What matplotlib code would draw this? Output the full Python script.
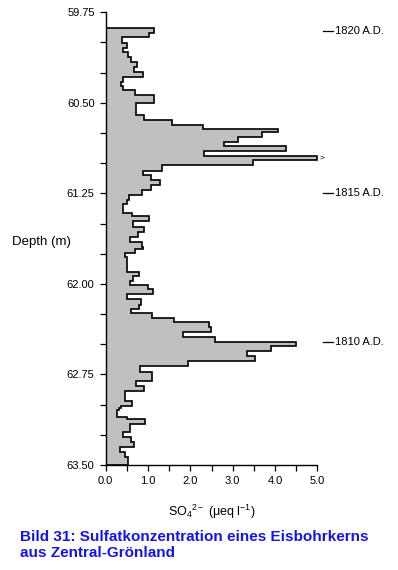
import numpy as np
import matplotlib
matplotlib.use('Agg')
import matplotlib.pyplot as plt
from matplotlib.ticker import MultipleLocator, FormatStrFormatter

plt.rcParams['font.family'] = ['Liberation Sans', 'DejaVu Sans']
plt.rcParams['mathtext.fontset'] = 'custom'
plt.rcParams['mathtext.rm'] = 'Liberation Sans'
plt.rcParams['mathtext.it'] = 'Liberation Sans'
plt.rcParams['mathtext.default'] = 'regular'

# Top depth (m) of each sample interval, last entry is the bottom of the core
depth_edges = [
    59.883, 59.924, 59.957, 60.002, 60.043, 60.081, 60.123, 60.164, 60.206, 60.247,
    60.284, 60.325, 60.361, 60.394, 60.435, 60.504, 60.601, 60.642, 60.684, 60.717,
    60.744, 60.781, 60.822, 60.855, 60.897, 60.938, 60.974, 61.015, 61.062, 61.098,
    61.139, 61.181, 61.222, 61.264, 61.305, 61.341, 61.413, 61.438, 61.477, 61.526,
    61.568, 61.609, 61.651, 61.692, 61.714, 61.747, 61.775, 61.899, 61.935, 61.974,
    62.009, 62.045, 62.084, 62.128, 62.173, 62.208, 62.244, 62.285, 62.313, 62.355,
    62.401, 62.443, 62.484, 62.512, 62.554, 62.595, 62.639, 62.678, 62.728, 62.805,
    62.846, 62.888, 62.929, 62.966, 63.008, 63.028, 63.045, 63.100, 63.120, 63.161,
    63.227, 63.271, 63.308, 63.351, 63.393, 63.434, 63.500,
]

# SO4 2- concentration (ueq/l) per interval
so4 = [
    1.13, 1.02, 0.39, 0.51, 0.40, 0.53, 0.59, 0.73, 0.68, 0.89,
    0.42, 0.35, 0.40, 0.69, 1.15, 0.71, 0.90, 1.57, 2.31, 4.06,
    3.70, 3.13, 2.80, 4.25, 2.33, 5.00, 3.47, 1.32, 0.89, 1.06,
    1.28, 1.06, 0.85, 0.56, 0.50, 0.40, 0.61, 1.03, 0.65, 0.91,
    0.76, 0.57, 0.85, 0.87, 0.69, 0.46, 0.50, 0.79, 0.65, 0.57,
    1.01, 1.11, 0.50, 0.83, 0.79, 0.60, 1.09, 1.61, 2.45, 2.48,
    1.82, 2.58, 4.50, 3.90, 3.33, 3.53, 1.94, 0.81, 1.10, 0.72,
    0.90, 0.46, 0.45, 0.63, 0.37, 0.32, 0.26, 0.50, 0.93, 0.57,
    0.42, 0.60, 0.66, 0.34, 0.45, 0.52,
]

depth_ticks = [59.75, 60.50, 61.25, 62.00, 62.75, 63.50]
conc_ticks = [0.0, 1.0, 2.0, 3.0, 4.0, 5.0]

# dated horizons
year_labels = ['1820 A.D.', '1815 A.D.', '1810 A.D.']
year_depths = [59.902, 61.244, 62.485]

fig = plt.figure(figsize=(3.98, 5.70), dpi=100)
ax = fig.add_axes([0.2656, 0.1842, 0.5317, 0.7942])

ax.stairs(so4, depth_edges, orientation='horizontal', baseline=0,
          fill=True, color='#c0c0c0', linewidth=0)
ax.stairs(so4, depth_edges, orientation='horizontal', baseline=0,
          fill=False, color='black', linewidth=1.2, clip_on=False)

ax.set_xlim(0, 5.0)
ax.set_ylim(63.50, 59.75)

ax.set_yticks(depth_ticks)
ax.yaxis.set_minor_locator(MultipleLocator(0.25))
ax.yaxis.set_major_formatter(FormatStrFormatter('%.2f'))
ax.set_xticks(conc_ticks)
ax.xaxis.set_minor_locator(MultipleLocator(0.5))
ax.xaxis.set_major_formatter(FormatStrFormatter('%.1f'))

ax.tick_params(which='both', direction='out', length=4, width=0.9,
               labelsize=8, pad=4, color='black')
for side in ('top', 'right'):
    ax.spines[side].set_visible(False)
for side in ('left', 'bottom'):
    ax.spines[side].set_linewidth(1.0)

ax.set_xlabel('SO$_4$$^{2-}$ ($\\mu$eq l$^{-1}$)', fontsize=9, labelpad=12)
fig.text(12 / 398, 1 - 242 / 570, 'Depth (m)', fontsize=9.5,
         ha='left', va='center')

# off-scale marker on the biggest peak
peak = int(np.argmax(so4))
ax.text(5.06, (depth_edges[peak] + depth_edges[peak + 1]) / 2, '>',
        fontsize=6, ha='left', va='center', clip_on=False)

for lab, d in zip(year_labels, year_depths):
    ax.plot([5.13, 5.36], [d, d], color='black', lw=0.9, clip_on=False)
    ax.text(5.42, d, lab, fontsize=8, ha='left', va='center')

fig.text(20 / 398, 1 - 545 / 570,
         'Bild 31: Sulfatkonzentration eines Eisbohrkerns\naus Zentral-Grönland',
         fontsize=11, fontweight='bold', color='#1414e6',
         ha='left', va='center', linespacing=1.1)

fig.savefig('out.png', dpi=100)
